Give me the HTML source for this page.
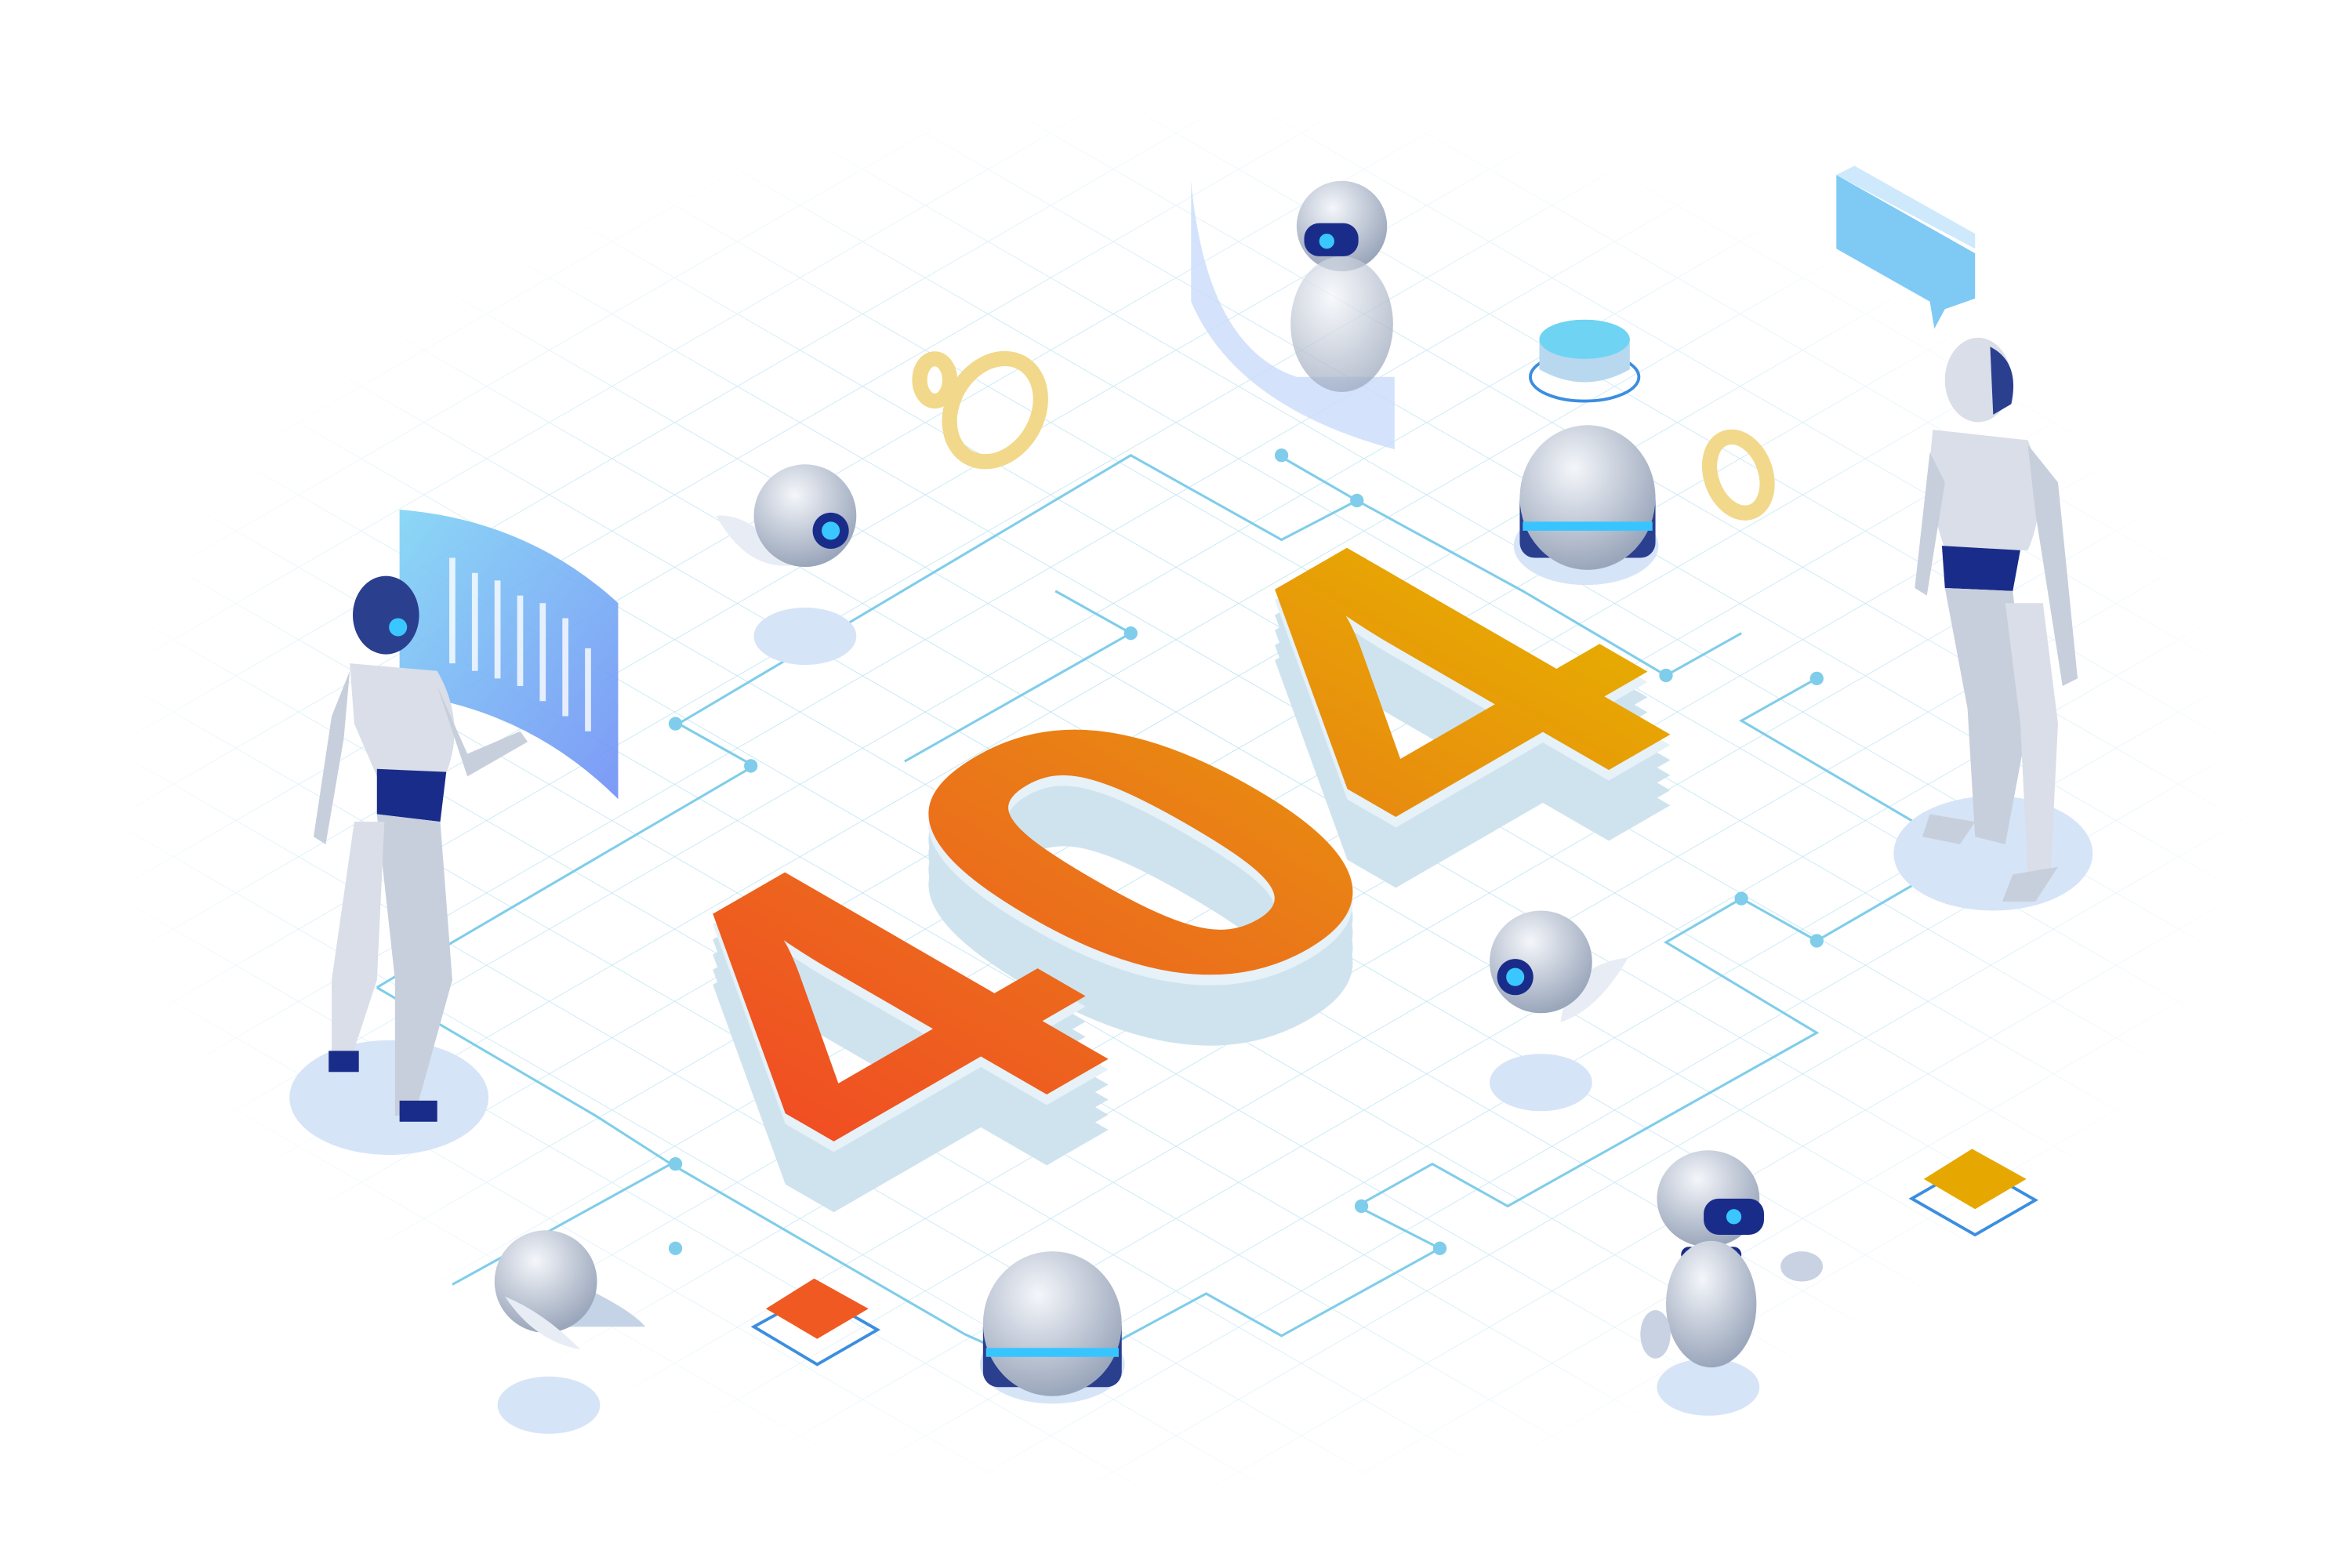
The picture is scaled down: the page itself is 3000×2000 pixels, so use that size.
<!DOCTYPE html>
<html><head><meta charset="utf-8"><style>
html,body{margin:0;padding:0;background:#fff;}
svg{display:block;}
</style></head><body>
<svg width="3000" height="2000" viewBox="0 0 1560 1040" preserveAspectRatio="none" xmlns="http://www.w3.org/2000/svg">
<defs>
<pattern id="grid" width="48" height="48" patternUnits="userSpaceOnUse" patternTransform="matrix(0.866,0.5,-0.866,0.5,780,520)">
<path d="M0 0H48M0 0V48" stroke="#9fd8ee" stroke-width="0.9" fill="none"/>
</pattern>
<radialGradient id="fade" cx="0.5" cy="0.5" r="0.5">
<stop offset="0" stop-color="#fff" stop-opacity="1"/>
<stop offset="0.7" stop-color="#fff" stop-opacity="0.8"/>
<stop offset="1" stop-color="#fff" stop-opacity="0"/>
</radialGradient>
<mask id="m"><ellipse cx="780" cy="530" rx="720" ry="470" fill="url(#fade)"/></mask>
<linearGradient id="og" x1="0" y1="0" x2="1" y2="0">
<stop offset="0" stop-color="#f04e23"/><stop offset="0.5" stop-color="#ea7a18"/><stop offset="1" stop-color="#e6ac00"/>
</linearGradient>
<linearGradient id="scr" x1="0" y1="0" x2="1" y2="1">
<stop offset="0" stop-color="#7fd3f5" stop-opacity="0.9"/><stop offset="1" stop-color="#6f8ff5" stop-opacity="0.9"/>
</linearGradient>
<radialGradient id="ball" cx="0.4" cy="0.3" r="0.7">
<stop offset="0" stop-color="#f4f6fa"/><stop offset="1" stop-color="#9aa6bb"/>
</radialGradient>
</defs>
<rect width="1560" height="1040" fill="#fff"/>
<rect width="1560" height="1040" fill="url(#grid)" mask="url(#m)" opacity="0.8"/>

<g stroke="#7fcdea" stroke-width="1.6" fill="none">
<polyline points="250,655 300,625 500,508 450,480 548,422 750,302 850,358 900,332 1010,392 1105,448 1155,420"/>
<polyline points="700,392 750,420 600,505"/>
<polyline points="250,655 395,740 445,772 640,885 700,912 800,858 850,886 955,828 900,800 950,772 1000,800 1205,685 1105,625 1155,596 1205,624 1305,566 1155,478 1205,450"/>
<polyline points="445,772 300,852"/>
<polyline points="848,302 900,332"/>
</g>
<g fill="#7fcdea">
<circle cx="548" cy="422" r="4.5"/><circle cx="750" cy="420" r="4.5"/><circle cx="850" cy="302" r="4.5"/><circle cx="900" cy="332" r="4.5"/>
<circle cx="448" cy="480" r="4.5"/><circle cx="498" cy="508" r="4.5"/><circle cx="1105" cy="448" r="4.5"/><circle cx="1205" cy="450" r="4.5"/>
<circle cx="1155" cy="596" r="4.5"/><circle cx="1205" cy="624" r="4.5"/><circle cx="448" cy="772" r="4.5"/><circle cx="448" cy="828" r="4.5"/>
<circle cx="903" cy="800" r="4.5"/><circle cx="955" cy="828" r="4.5"/>
</g>

<g fill="#d6e4f7">
<ellipse cx="258" cy="728" rx="66" ry="38"/><ellipse cx="1322" cy="566" rx="66" ry="38"/>
<ellipse cx="534" cy="422" rx="34" ry="19"/><ellipse cx="1022" cy="718" rx="34" ry="19"/>
<ellipse cx="364" cy="932" rx="34" ry="19"/><ellipse cx="1133" cy="920" rx="34" ry="19"/>
<ellipse cx="698" cy="905" rx="48" ry="26"/><ellipse cx="1052" cy="362" rx="48" ry="26"/>
</g>

<g font-family="Liberation Sans, sans-serif" font-weight="bold" font-size="360" letter-spacing="15">
<g fill="#cfe3ef">
<text transform="matrix(0.866,-0.5,0.866,0.5,592,832)">404</text>
<text transform="matrix(0.866,-0.5,0.866,0.5,592,822)">404</text>
<text transform="matrix(0.866,-0.5,0.866,0.5,592,812)">404</text>
<text transform="matrix(0.866,-0.5,0.866,0.5,592,802)">404</text>
</g>
<g fill="#e6f1f8">
<text transform="matrix(0.866,-0.5,0.866,0.5,592,792)">404</text>
</g>
<text fill="url(#og)" transform="matrix(0.866,-0.5,0.866,0.5,592,785)">404</text>
</g>

<path d="M265 338 Q350 345 410 400 L410 530 Q350 470 265 460 Z" fill="url(#scr)"/>
<g stroke="#fff" stroke-width="4" opacity="0.8">
<line x1="300" y1="370" x2="300" y2="440"/><line x1="315" y1="380" x2="315" y2="445"/><line x1="330" y1="385" x2="330" y2="450"/><line x1="345" y1="395" x2="345" y2="455"/><line x1="360" y1="400" x2="360" y2="465"/><line x1="375" y1="410" x2="375" y2="475"/><line x1="390" y1="430" x2="390" y2="485"/>
</g>
<path d="M790 120 Q800 230 860 250 L925 250 L925 298 Q820 270 790 200 Z" fill="#c9dcfa" opacity="0.8"/>
<path d="M1218 116 L1310 168 L1310 198 L1290 205 L1283 218 L1280 200 L1218 165 Z" fill="#7fc9f5"/>
<path d="M1230 110 L1310 155 L1310 165 L1218 116 Z" fill="#cde9fb"/>

<g fill="none" stroke-width="10">
<ellipse cx="660" cy="272" rx="28" ry="36" stroke="#f2d88a" transform="rotate(30 660 272)"/>
<ellipse cx="620" cy="252" rx="10" ry="14" stroke="#f2d88a"/>
<ellipse cx="1153" cy="315" rx="18" ry="26" stroke="#f2d88a" transform="rotate(-20 1153 315)"/>
</g>

<g>
<rect x="1008" y="320" width="90" height="50" rx="10" fill="#2b3f8f"/>
<ellipse cx="1053" cy="330" rx="45" ry="48" fill="url(#ball)"/>
<rect x="1010" y="346" width="86" height="6" fill="#38c5ff"/>
<rect x="652" y="870" width="92" height="50" rx="10" fill="#2b3f8f"/>
<ellipse cx="698" cy="878" rx="46" ry="48" fill="url(#ball)"/>
<rect x="654" y="894" width="88" height="6" fill="#38c5ff"/>
<ellipse cx="1051" cy="250" rx="36" ry="16" fill="none" stroke="#3b8ee0" stroke-width="2"/>
<path d="M1021 225 L1021 245 Q1051 262 1081 245 L1081 225 Z" fill="#b8d8f0"/>
<ellipse cx="1051" cy="225" rx="30" ry="13" fill="#6fd3f3"/>
</g>

<path d="M500 880 L540 858 L582 882 L542 905 Z" fill="none" stroke="#3b8ee0" stroke-width="2"/>
<path d="M508 868 L540 848 L576 868 L542 888 Z" fill="#f05a22"/>
<path d="M1268 795 L1308 772 L1350 796 L1310 819 Z" fill="none" stroke="#3b8ee0" stroke-width="2"/>
<path d="M1276 782 L1308 762 L1344 782 L1310 802 Z" fill="#e6a800"/>

<g>
<path d="M475 342 Q500 340 525 375 Q495 378 475 342Z" fill="#e8edf5"/>
<circle cx="534" cy="342" r="34" fill="url(#ball)"/><circle cx="551" cy="352" r="12" fill="#1a2c8a"/><circle cx="551" cy="352" r="6" fill="#3ac7ff"/>
<path d="M1080 635 Q1060 670 1035 678 Q1040 640 1080 635Z" fill="#e8edf5"/>
<circle cx="1022" cy="638" r="34" fill="url(#ball)"/><circle cx="1005" cy="648" r="12" fill="#1a2c8a"/><circle cx="1005" cy="648" r="6" fill="#3ac7ff"/>
<path d="M390 855 Q420 870 428 880 L370 880 Z" fill="#c5d3e6"/>
<circle cx="362" cy="850" r="34" fill="url(#ball)"/>
<path d="M335 860 Q355 890 385 895 Q360 870 335 860Z" fill="#e8edf5"/>
</g>

<g>
<ellipse cx="890" cy="150" rx="30" ry="30" fill="url(#ball)"/>
<rect x="865" y="148" width="36" height="22" rx="10" fill="#1a2c8a"/><circle cx="880" cy="160" r="5" fill="#3ac7ff"/>
<ellipse cx="890" cy="215" rx="34" ry="45" fill="url(#ball)" opacity="0.7"/>
<ellipse cx="1133" cy="795" rx="34" ry="32" fill="url(#ball)"/>
<rect x="1130" y="795" width="40" height="24" rx="10" fill="#1a2c8a"/><circle cx="1150" cy="807" r="5" fill="#3ac7ff"/>
<rect x="1115" y="827" width="40" height="10" rx="5" fill="#1a2c8a"/>
<ellipse cx="1135" cy="865" rx="30" ry="42" fill="url(#ball)"/>
<ellipse cx="1195" cy="840" rx="14" ry="10" fill="#c8d2e2"/><ellipse cx="1098" cy="885" rx="10" ry="16" fill="#c8d2e2"/>
</g>

<g>
<ellipse cx="256" cy="408" rx="22" ry="26" fill="#2b3f8f"/>
<circle cx="264" cy="416" r="6" fill="#3ac7ff"/>
<path d="M232 440 L290 445 Q310 480 295 515 L250 515 L235 480 Z" fill="#d9dee8"/>
<path d="M250 510 L296 512 L292 545 L250 540 Z" fill="#1a2c8a"/>
<path d="M250 540 L292 545 L300 650 L275 740 L262 740 L262 650 Z" fill="#c7cfdc"/>
<path d="M235 545 L255 545 L250 650 L232 705 L220 705 L220 650 Z" fill="#d9dee8"/>
<path d="M232 445 L220 475 L208 555 L216 560 L228 490 Z" fill="#c7cfdc"/>
<path d="M290 455 L310 500 L345 485 L350 492 L310 515 Z" fill="#c7cfdc"/>
<rect x="265" y="730" width="25" height="14" fill="#1a2c8a"/>
<rect x="218" y="697" width="20" height="14" fill="#1a2c8a"/>
</g>
<g>
<ellipse cx="1312" cy="252" rx="22" ry="28" fill="#d9dee8"/>
<path d="M1320 230 Q1340 240 1334 268 L1322 275 Z" fill="#2b3f8f"/>
<path d="M1282 285 L1345 292 Q1360 330 1345 365 L1290 365 L1278 325 Z" fill="#d9dee8"/>
<path d="M1288 362 L1340 365 L1335 392 L1290 390 Z" fill="#1a2c8a"/>
<path d="M1290 390 L1335 392 L1345 480 L1330 560 L1310 555 L1305 470 Z" fill="#c7cfdc"/>
<path d="M1330 400 L1355 400 L1365 480 L1360 580 L1345 580 L1340 480 Z" fill="#d9dee8"/>
<path d="M1345 295 L1365 320 L1378 450 L1368 455 L1350 340 Z" fill="#c7cfdc"/>
<path d="M1280 300 L1270 390 L1278 395 L1290 320 Z" fill="#c7cfdc"/>
<path d="M1280 540 L1310 545 L1300 560 L1275 555 Z" fill="#c7cfdc"/>
<path d="M1335 580 L1365 575 L1350 598 L1328 598 Z" fill="#c7cfdc"/>
</g>
</svg>
</body></html>
